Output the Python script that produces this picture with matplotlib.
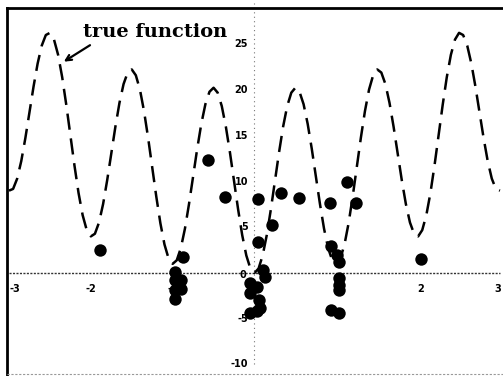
import matplotlib
matplotlib.use("Agg")
import matplotlib.pyplot as plt
from matplotlib.lines import Line2D

# true function curve, x from -3 to 3 in steps of 0.05
curve_x = [round(-3 + 0.05 * i, 2) for i in range(121)]
curve_half = [0.00, 0.49, 1.92, 4.14, 6.95, 10.06, 13.18, 16.00, 18.25, 19.71,
              20.25, 19.81, 18.45, 16.30, 13.58, 10.56, 7.55, 4.84, 2.72, 1.39,
              1.00, 1.59, 3.12, 5.44, 8.35, 11.56, 14.78, 17.70, 20.05, 21.61,
              22.25, 21.91, 20.65, 18.60, 15.98, 13.06, 10.15, 7.54, 5.52, 4.29,
              4.00, 4.69, 6.32, 8.74, 11.75, 15.06, 18.38, 21.40, 23.85, 25.51,
              26.25, 26.01, 24.85, 22.90, 20.38, 17.56, 14.75, 12.24, 10.32, 9.19,
              9.00]
curve_y = curve_half[::-1] + curve_half[1:]

# sample points
pts_x = [-1.89, -0.87, -0.97, -0.97, -0.90, -0.97, -0.90, -0.97,
         -0.57, -0.36,
         0.04, 0.33, 0.54, 0.22, 0.04, 0.11, 0.13, -0.06, 0.03, -0.06, 0.05,
         0.03, -0.06, 0.07,
         0.92, 1.13, 1.24, 0.93, 1.01, 1.03, 1.03, 1.03, 1.03, 0.93, 1.03, 2.04]
pts_y = [2.5, 1.8, 0.1, -0.8, -0.8, -1.9, -1.7, -2.8,
         12.3, 8.3,
         8.1, 8.7, 8.2, 5.2, 3.4, 0.3, -0.4, -1.1, -1.5, -2.2, -3.0,
         -4.2, -4.4, -3.8,
         7.6, 9.9, 7.7, 2.9, 2.0, 1.2, -0.6, -1.3, -1.9, -4.0, -4.4, 1.5]

x_ticks = [-3, -2, -1, 1, 2, 3]
y_ticks = [25, 20, 15, 10, 5, -5, -10]

fig = plt.figure(figsize=(5.03, 3.76), dpi=100)
ax = fig.add_axes([0, 0, 1, 1])
ax.set_xlim(-3.11, 3.037)
ax.set_ylim(-11.26, 29.84)
ax.axis("off")

# frame
fig.add_artist(Line2D([7 / 503, 7 / 503], [0, 1 - 8 / 376], transform=fig.transFigure,
                      color="black", lw=2))
fig.add_artist(Line2D([7 / 503, 1], [1 - 8 / 376, 1 - 8 / 376], transform=fig.transFigure,
                      color="black", lw=2))
fig.add_artist(Line2D([7 / 503, 1], [2 / 376, 2 / 376], transform=fig.transFigure,
                      color="#999999", lw=0.8, ls=(0, (2, 1.5))))

# axes through origin
ax.plot([-3, 3], [0, 0], color="#333333", lw=1.0, ls=(0, (1.5, 1)), zorder=1)
ax.plot([0, 0], [-10, 29.5], color="#777777", lw=0.8, ls=(0, (1, 3)), zorder=1)

fs = 7
for t in x_ticks:
    ha = "center"
    xpos = t
    if t == 3:
        xpos = 2.97
    elif t == -3:
        xpos = -3.0
        ha = "left"
    elif t > 0:
        xpos = t + 0.03
    ax.text(xpos, -1.8, f"{t}", ha=ha, va="center",
            fontsize=fs, fontweight="bold", zorder=1)
for t in y_ticks:
    ax.text(-0.08, t, f"{t}", ha="right", va="center", fontsize=fs,
            fontweight="bold", zorder=1)
ax.text(-0.1, -0.2, "0", ha="right", va="center", fontsize=fs, fontweight="bold", zorder=1)

# true function
ax.plot(curve_x, curve_y, color="black", lw=1.8, ls=(0, (6.5, 3.5)), zorder=2)

# samples
ax.scatter(pts_x, pts_y, s=80, color="black", zorder=3, linewidths=0)

# annotation
ax.text(-2.09, 25.4, "true function", fontsize=14, fontweight="bold",
        family="DejaVu Serif", ha="left", va="bottom", zorder=4)
ax.annotate("", xy=(-2.33, 23.1), xytext=(-2.01, 24.9),
            arrowprops=dict(arrowstyle="->", color="black", lw=1.6,
                            shrinkA=0, shrinkB=0, mutation_scale=10),
            zorder=4)

fig.savefig("out.png", dpi=100)
